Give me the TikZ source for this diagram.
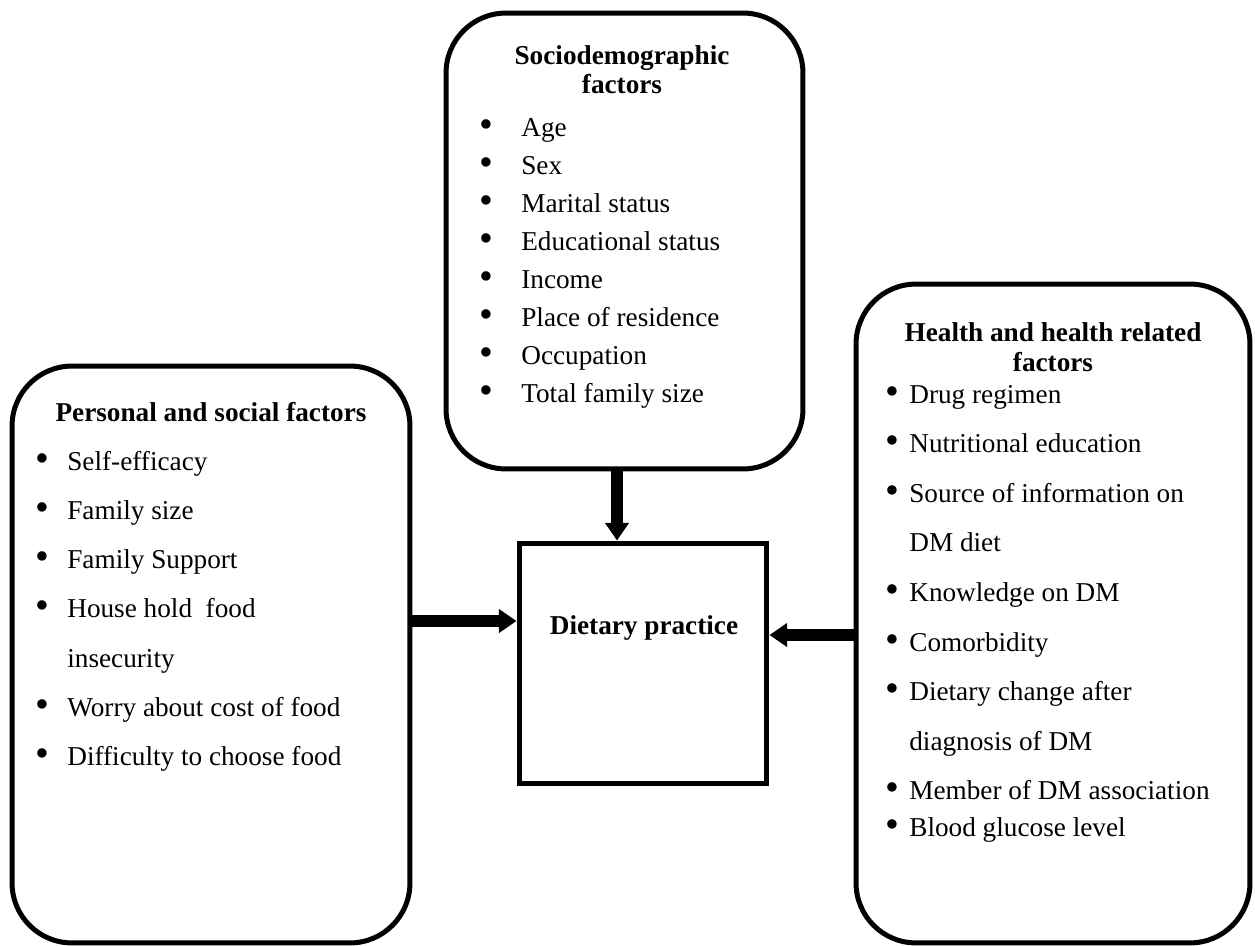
\documentclass[tikz,border=0pt]{standalone}
\usepackage{fontspec}
\usepackage{graphicx}
\setmainfont{Liberation Serif}
\usetikzlibrary{arrows.meta}
\newcommand{\dotmark}{\raisebox{-0.6pt}{\scalebox{1.45}{\textbullet}}}

\begin{document}
\begin{tikzpicture}[x=0.02cm, y=-0.02cm,
        box/.style={draw, line width=0.1cm, rounded corners=1.2cm, inner sep=0pt},
        head/.style={font=\fontsize{15.5}{16.7}\selectfont\bfseries, align=center, inner sep=0pt},
        item/.style={font=\fontsize{15.5}{16.7}\selectfont, anchor=base west, inner sep=0pt},
        flow/.style={-{Triangle[length=10pt, width=13pt]}, line width=0.24cm}]
        \useasboundingbox (0,0) rectangle (1255,946);

        \node[box, minimum width=7.14cm, minimum height=9.12cm] (socio) at (624.5,241) {};
        \node[box, minimum width=7.96cm, minimum height=11.54cm] (pers) at (211,654.5) {};
        \node[box, minimum width=7.88cm, minimum height=13.18cm] (health) at (1053,613.5) {};
        \node[box, rounded corners=0pt, minimum width=4.96cm, minimum height=4.82cm] (diet) at (643,663.5) {};

        % headings (base = last line)
        \node[head, anchor=base] (sociohead) at (622,94) {Sociodemographic\\factors};
        \node[head, anchor=base] (pershead) at (211,421) {Personal and social factors};
        \node[head, anchor=base] (healthhead) at (1053,371) {Health and health related\\factors};
        \node[head, anchor=base] (dietlabel) at (644,634) {Dietary practice};

        % factor lists
        \foreach \t [count=\i] in {Age, Sex, Marital status, Educational status, Income,
                Place of residence, Occupation, Total family size}
            \node[item] (sitem\i) at (479,{136+38.1*(\i-1)}) {\makebox[0.84cm][l]{\dotmark}\t};

        \foreach \b/\t [count=\i] in {{\dotmark}/Self-efficacy, {\dotmark}/Family size,
                {\dotmark}/Family Support, {\dotmark}/House hold\ \ food, {}/insecurity,
                {\dotmark}/Worry about cost of food, {\dotmark}/Difficulty to choose food}
            \node[item] (pitem\i) at (35,{470+49.3*(\i-1)}) {\makebox[0.64cm][l]{\b}\t};

        \foreach \b/\t [count=\i] in {{\dotmark}/Drug regimen, {\dotmark}/Nutritional education,
                {\dotmark}/Source of information on, {}/DM diet, {\dotmark}/Knowledge on DM,
                {\dotmark}/Comorbidity, {\dotmark}/Dietary change after, {}/diagnosis of DM,
                {\dotmark}/Member of DM association}
            \node[item] (hitem\i) at (885,{403+49.6*(\i-1)}) {\makebox[0.48cm][l]{\b}\t};
        \node[item] (hitem10) at (885,836) {\makebox[0.48cm][l]{\dotmark}Blood glucose level};

        % arrows into the dietary practice box
        \coordinate (lin) at ([yshift=0.85cm]diet.west);
        \coordinate (rin) at ([yshift=0.57cm]diet.east);
        \draw[flow] ([xshift=-0.15cm]socio.south) -- ([xshift=-0.15cm]socio.south |- diet.north);
        \draw[flow] (pers.east |- lin) -- (lin);
        \draw[flow] (health.west |- rin) -- (rin);
\end{tikzpicture}
\end{document}
